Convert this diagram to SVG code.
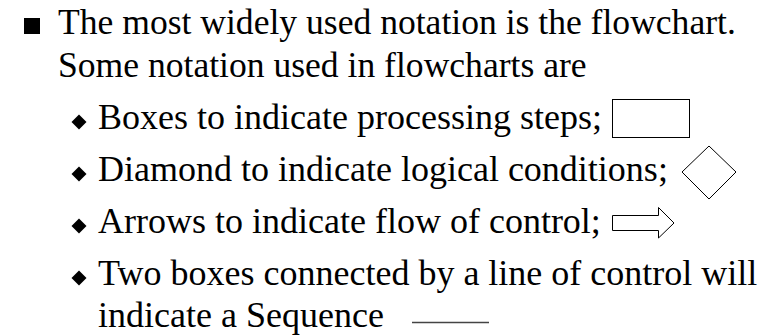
<svg xmlns="http://www.w3.org/2000/svg" width="782" height="335" viewBox="0 0 782 335">
<style>
.t{font-family:'Liberation Serif',Tinos,'Times New Roman',Times,'DejaVu Serif',serif;font-size:36px;fill:#000}
.m{font-size:35.6px}
.shape{fill:#fff;stroke:#000;stroke-width:1}
.bul{fill:#000}
</style>
<defs>
<polygon id="dia" points="0,-7.5 7.5,0 0,7.5 -7.5,0"/>
</defs>
<rect width="782" height="335" fill="#fff"/>
<g id="bullet1">
<rect class="bul" x="24" y="18" width="16" height="16"/>
<text class="t m" x="58" y="34">The most widely used notation is the flowchart.</text>
<text class="t m" x="58" y="77">Some notation used in flowcharts are</text>
</g>
<g id="item-boxes">
<use href="#dia" x="79" y="122" class="bul"/>
<text class="t" x="98" y="129">Boxes to indicate processing steps;</text>
</g>
<g id="item-diamond">
<use href="#dia" x="79" y="174" class="bul"/>
<text class="t" x="98" y="181">Diamond to indicate logical conditions;</text>
</g>
<g id="item-arrows">
<use href="#dia" x="79" y="226" class="bul"/>
<text class="t" x="98" y="233">Arrows to indicate flow of control;</text>
</g>
<g id="item-sequence">
<use href="#dia" x="79" y="278" class="bul"/>
<text class="t" x="98" y="285">Two boxes connected by a line of control will</text>
<text class="t" x="98" y="327">indicate a Sequence</text>
</g>
<g id="box-symbol">
<rect class="shape" x="612.5" y="99.5" width="77" height="38"/>
</g>
<g id="diamond-symbol">
<polygon class="shape" points="709,146 736,172 709,199 682,172"/>
</g>
<g id="arrow-symbol">
<polygon class="shape" points="612.5,215.5 658.5,215.5 658.5,207.5 674,223 658.5,238 658.5,230.5 612.5,230.5"/>
</g>
<g id="connectors">
<line x1="412" y1="322.5" x2="489" y2="322.5" stroke="#444" stroke-width="1.5"/>
</g>
</svg>
